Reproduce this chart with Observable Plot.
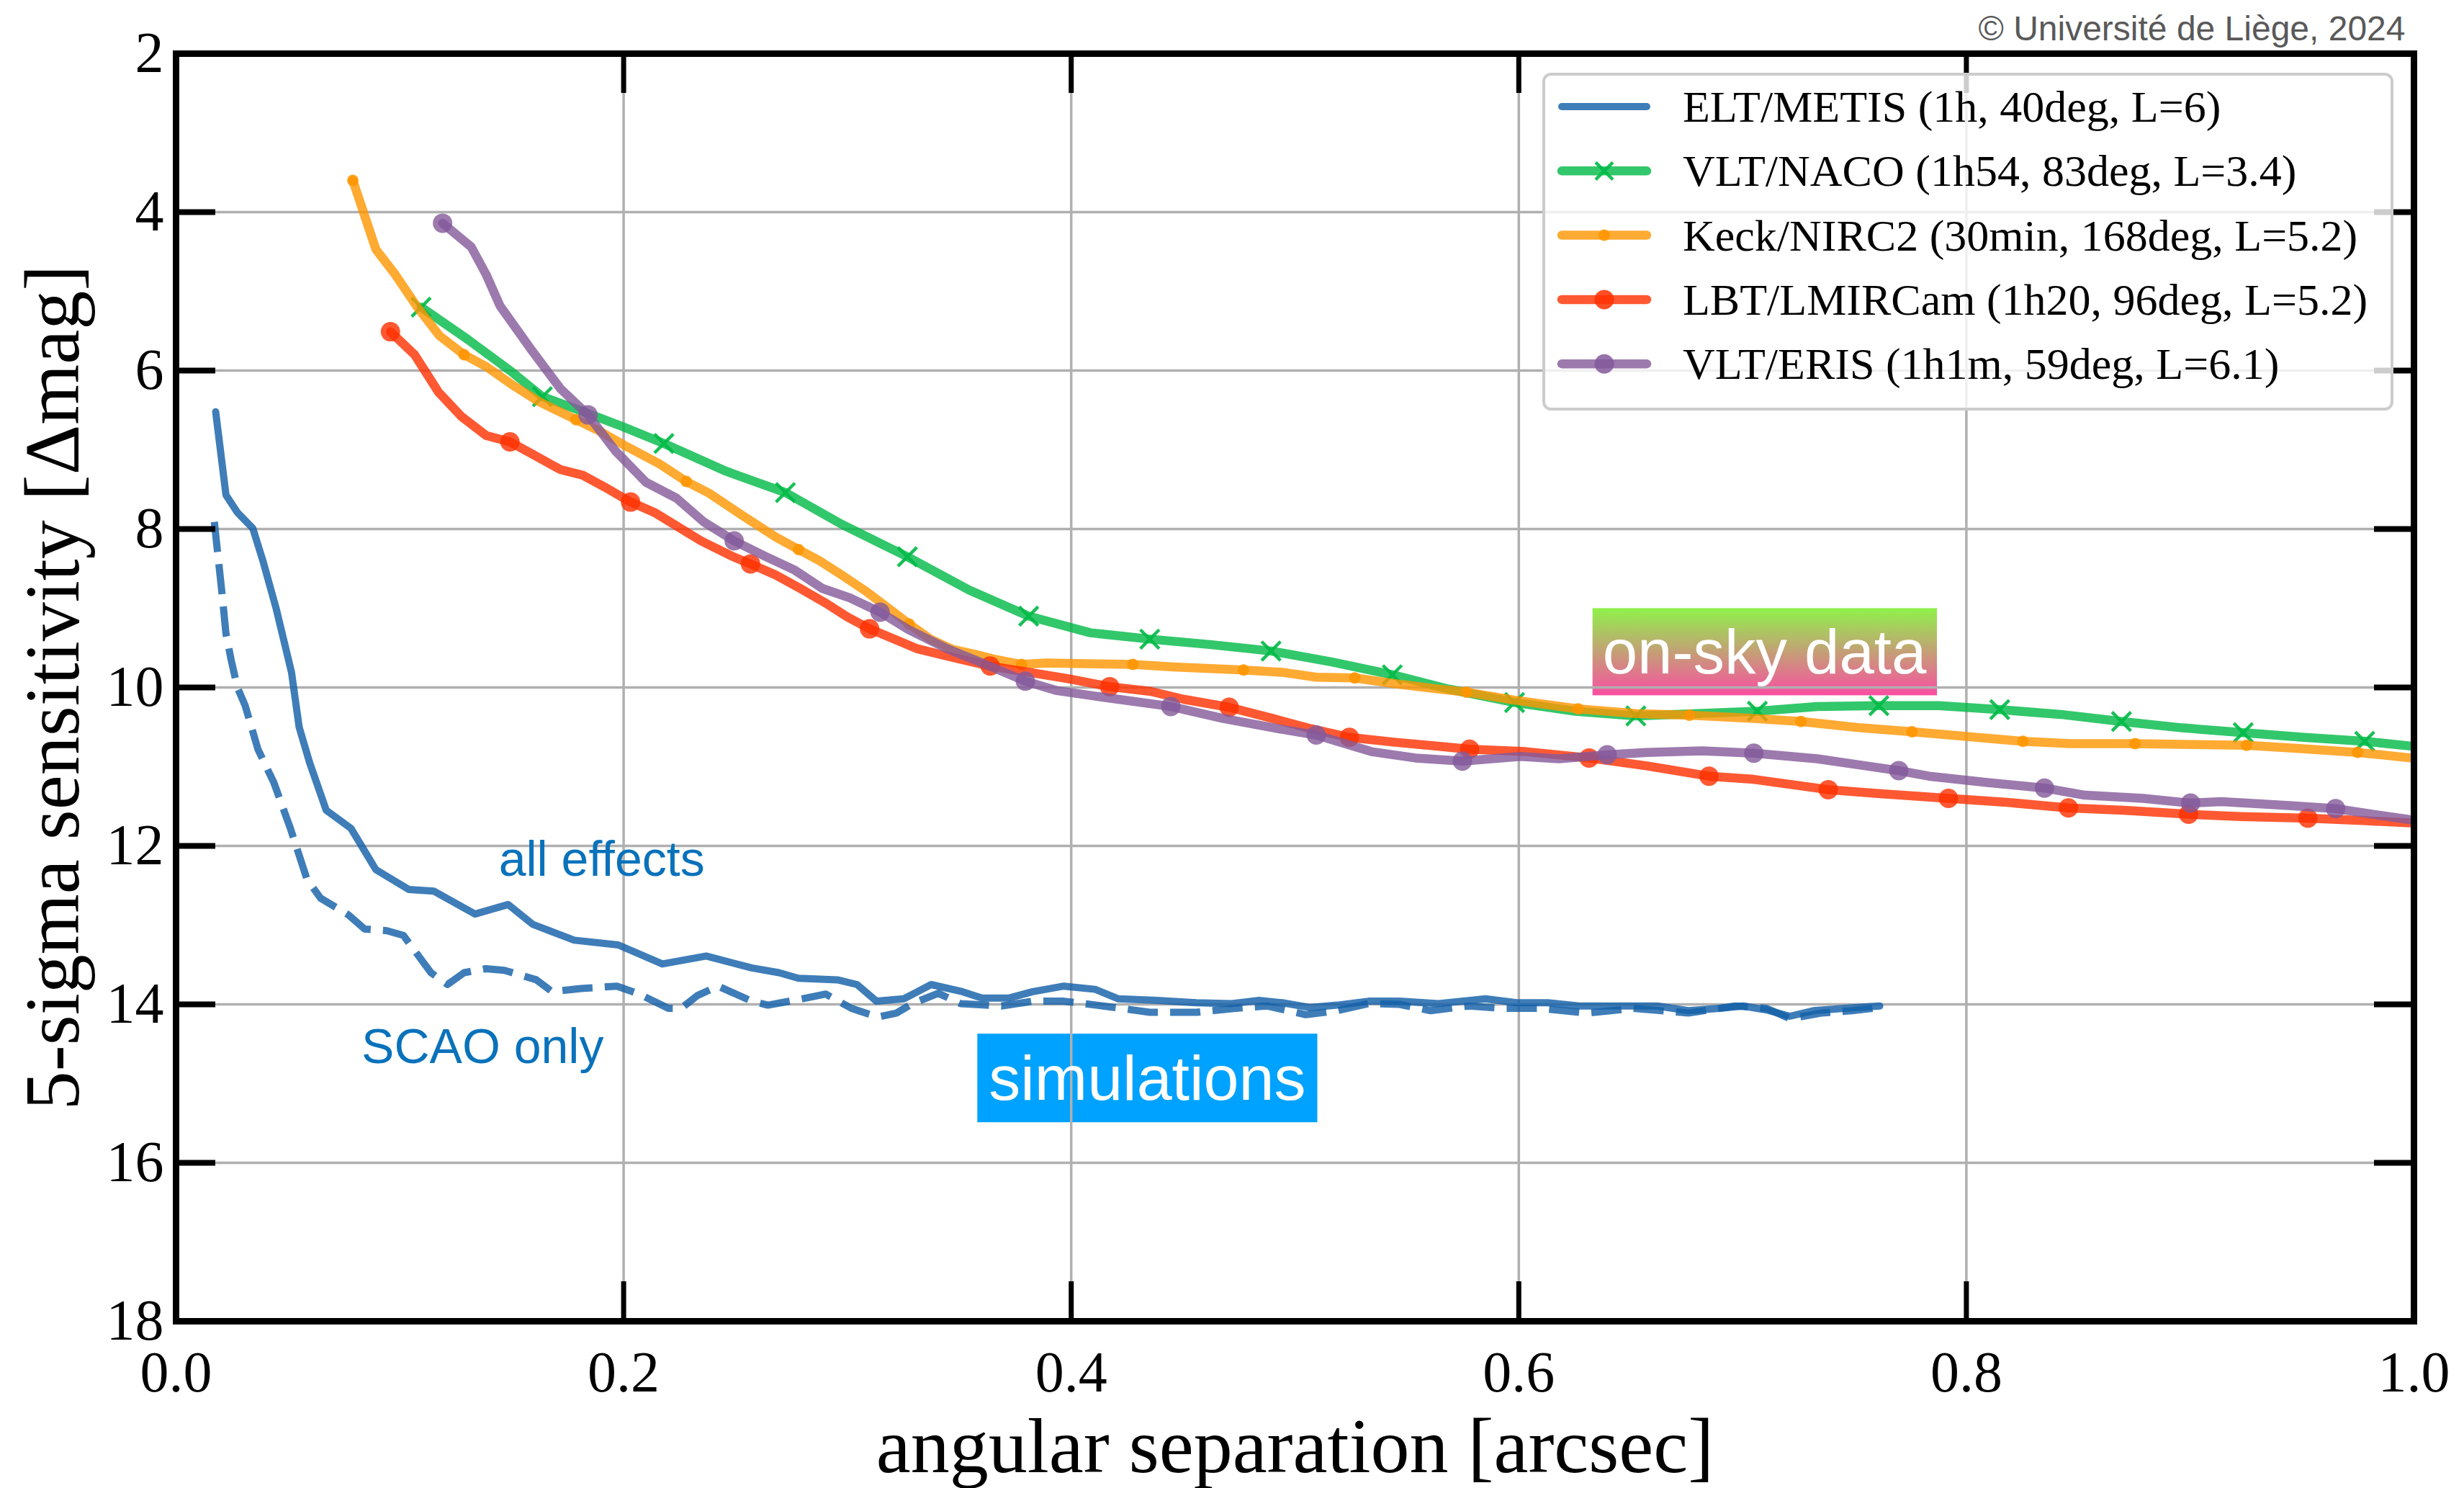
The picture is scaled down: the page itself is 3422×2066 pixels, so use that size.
<!DOCTYPE html>
<html>
<head>
<meta charset="utf-8">
<script src="https://cdn.jsdelivr.net/npm/d3@7"></script>
<script src="https://cdn.jsdelivr.net/npm/@observablehq/plot@0.6"></script>
<style>
  html, body { margin: 0; padding: 0; background: #ffffff; }
  #chart { width: 3422px; height: 2066px; }
</style>
</head>
<body>
<div id="chart"></div>
<script>
// ---------------- DATA ----------------
const seriesNames = [
  "ELT/METIS (1h, 40deg, L=6)",
  "VLT/NACO (1h54, 83deg, L=3.4)",
  "Keck/NIRC2 (30min, 168deg, L=5.2)",
  "LBT/LMIRCam (1h20, 96deg, L=5.2)",
  "VLT/ERIS (1h1m, 59deg, L=6.1)"
];
const xTicks = [0, 0.2, 0.4, 0.6, 0.8, 1.0];
const yTicks = [2, 4, 6, 8, 10, 12, 14, 16, 18];
const xTitle = "angular separation [arcsec]";
const yTitle = "5-sigma sensitivity [Δmag]";
const credit = "© Université de Liège, 2024";

// ELT/METIS simulations: [separation, Δmag]
const metisAllEffects = [
  [0.0177,6.52],[0.0223,7.57],[0.0274,7.79],[0.0343,7.99],[0.0389,8.41],[0.0447,9.0],
  [0.0516,9.81],[0.055,10.5],[0.0597,10.95],[0.0671,11.55],[0.0782,11.78],[0.0893,12.30],
  [0.104,12.55],[0.1151,12.57],[0.1336,12.86],[0.1484,12.74],[0.1594,12.99],[0.1779,13.19],
  [0.1976,13.25],[0.2173,13.49],[0.2369,13.39],[0.2572,13.54],[0.2694,13.6],[0.2781,13.67],
  [0.2955,13.69],[0.3043,13.75],[0.313,13.96],[0.3252,13.93],[0.3374,13.75],[0.3514,13.84],
  [0.3601,13.92],[0.3723,13.92],[0.3828,13.84],[0.3967,13.77],[0.4107,13.81],[0.4211,13.93],
  [0.4385,13.95],[0.456,13.98],[0.4717,13.99],[0.4839,13.95],[0.4944,13.98],[0.5066,14.04],
  [0.5188,14.01],[0.5328,13.96],[0.5467,13.96],[0.5641,13.99],[0.5851,13.93],[0.5991,13.98],
  [0.613,13.98],[0.6269,14.02],[0.6479,14.02],[0.6618,14.02],[0.6758,14.08],[0.6897,14.05],
  [0.7002,14.02],[0.7107,14.07],[0.7211,14.15],[0.7316,14.08],[0.7455,14.05],[0.7613,14.02]
];
const metisScaoOnly = [
  [0.0171,7.91],[0.0206,8.83],[0.0223,9.32],[0.0246,9.65],[0.0274,10.0],[0.0309,10.23],
  [0.0366,10.78],[0.0437,11.2],[0.0511,11.78],[0.0585,12.42],[0.0646,12.66],[0.077,12.87],
  [0.0843,13.05],[0.0942,13.07],[0.1016,13.13],[0.1139,13.6],[0.1213,13.75],[0.1287,13.6],
  [0.1385,13.55],[0.1467,13.57],[0.161,13.69],[0.168,13.84],[0.181,13.8],[0.197,13.77],
  [0.207,13.87],[0.22,14.05],[0.2257,14.05],[0.2329,13.89],[0.2422,13.77],[0.2573,13.96],
  [0.2645,14.01],[0.2817,13.92],[0.2903,13.87],[0.3018,14.05],[0.3134,14.16],[0.3219,14.11],
  [0.3291,13.99],[0.3406,13.86],[0.3506,13.99],[0.3688,14.02],[0.3828,13.96],[0.3967,13.96],
  [0.4141,14.02],[0.4351,14.1],[0.456,14.1],[0.4734,14.05],[0.4874,14.02],[0.5048,14.13],
  [0.5188,14.08],[0.5328,13.99],[0.5467,14.0],[0.5606,14.08],[0.578,14.02],[0.592,14.05],
  [0.6094,14.05],[0.6304,14.11],[0.6513,14.05],[0.6758,14.11],[0.6967,14.02],[0.7107,14.05],
  [0.7211,14.18],[0.7351,14.11],[0.749,14.08],[0.7613,14.04]
];

// on-sky data: [separation, Δmag, marker (1 = marker drawn)]
const vltNaco = [
  [0.1095,5.2,1],[0.13,5.6,0],[0.1497,6.01,0],[0.1637,6.33,1],[0.1792,6.49,0],[0.1989,6.7,0],
  [0.218,6.92,1],[0.2457,7.27,0],[0.2723,7.54,1],[0.2974,7.94,0],[0.3268,8.35,1],[0.3544,8.77,0],
  [0.381,9.1,1],[0.4086,9.31,0],[0.4351,9.39,1],[0.4627,9.46,0],[0.4893,9.54,1],[0.5169,9.68,0],
  [0.5435,9.84,1],[0.5686,10.02,0],[0.5981,10.19,1],[0.6252,10.3,0],[0.6523,10.36,1],[0.68,10.33,0],
  [0.7066,10.3,1],[0.7333,10.24,0],[0.7609,10.23,1],[0.7877,10.23,0],[0.8149,10.28,1],[0.8421,10.34,0],
  [0.8693,10.43,1],[0.8965,10.51,0],[0.9237,10.57,1],[0.9508,10.63,0],[0.978,10.68,1],[0.9987,10.74,0]
];
const keckNirc2 = [
  [0.079,3.6,1],[0.0893,4.47,0],[0.098,4.79,0],[0.1078,5.2,0],[0.1177,5.56,0],[0.1287,5.8,1],
  [0.1386,5.95,0],[0.1497,6.17,0],[0.162,6.39,0],[0.1787,6.62,1],[0.189,6.76,0],[0.2014,6.96,0],
  [0.2161,7.18,0],[0.228,7.4,1],[0.2383,7.55,0],[0.2531,7.83,0],[0.2679,8.1,0],[0.2782,8.26,1],
  [0.2875,8.4,0],[0.2974,8.58,0],[0.3085,8.79,0],[0.317,8.97,0],[0.3276,9.2,1],[0.3371,9.39,0],
  [0.347,9.52,0],[0.3568,9.58,0],[0.3667,9.65,0],[0.3778,9.71,1],[0.3888,9.69,0],[0.4061,9.7,0],
  [0.4275,9.71,1],[0.4455,9.74,0],[0.477,9.78,1],[0.4947,9.81,0],[0.5095,9.87,0],[0.5267,9.88,1],
  [0.544,9.95,0],[0.5612,10.01,0],[0.5767,10.06,1],[0.5981,10.16,0],[0.6265,10.27,1],[0.6523,10.33,0],
  [0.6762,10.35,1],[0.705,10.39,0],[0.7261,10.43,1],[0.7529,10.51,0],[0.7757,10.56,1],[0.7964,10.61,0],
  [0.8253,10.68,1],[0.8464,10.71,0],[0.8754,10.71,1],[0.9008,10.72,0],[0.9252,10.73,1],[0.9487,10.77,0],
  [0.9748,10.82,1],[0.9987,10.89,0]
];
const lbtLmircam = [
  [0.0958,5.51,1],[0.1066,5.8,0],[0.1172,6.27,0],[0.1275,6.58,0],[0.1386,6.82,0],[0.1492,6.9,1],
  [0.1595,7.06,0],[0.1718,7.25,0],[0.1817,7.32,0],[0.1915,7.47,0],[0.2031,7.66,1],[0.2137,7.79,0],
  [0.2236,7.96,0],[0.2346,8.15,0],[0.2482,8.34,0],[0.2567,8.44,1],[0.2679,8.58,0],[0.2789,8.75,0],
  [0.29,8.93,0],[0.2999,9.11,0],[0.3099,9.26,1],[0.331,9.51,0],[0.347,9.62,0],[0.3638,9.73,1],
  [0.3815,9.81,0],[0.3987,9.89,0],[0.4172,9.99,1],[0.4356,10.05,0],[0.4504,10.15,0],[0.4706,10.25,1],
  [0.4898,10.39,0],[0.507,10.52,0],[0.5243,10.63,1],[0.544,10.69,0],[0.5637,10.74,0],[0.578,10.78,1],
  [0.6031,10.81,0],[0.6314,10.89,1],[0.6572,10.99,0],[0.685,11.12,1],[0.705,11.16,0],[0.7383,11.29,1],
  [0.7616,11.34,0],[0.792,11.4,1],[0.8181,11.45,0],[0.8456,11.52,1],[0.8703,11.55,0],[0.8993,11.6,1],
  [0.9226,11.63,0],[0.9526,11.65,1],[0.977,11.68,0],[0.9987,11.71,0]
];
const vltEris = [
  [0.1191,4.14,1],[0.1319,4.44,0],[0.1386,4.79,0],[0.1447,5.18,0],[0.1583,5.72,0],[0.1718,6.23,0],
  [0.1841,6.56,1],[0.1965,7.02,0],[0.21,7.41,0],[0.2236,7.61,0],[0.2358,7.91,0],[0.2494,8.15,1],
  [0.2629,8.34,0],[0.2765,8.52,0],[0.2888,8.75,0],[0.3011,8.87,0],[0.3146,9.05,1],[0.3273,9.27,0],
  [0.3445,9.51,0],[0.3593,9.68,0],[0.3795,9.92,1],[0.3937,10.04,0],[0.4159,10.13,0],[0.4445,10.24,1],
  [0.4676,10.39,0],[0.4923,10.52,0],[0.5095,10.6,1],[0.5341,10.81,0],[0.5538,10.89,0],[0.5748,10.93,1],
  [0.6006,10.87,0],[0.6179,10.9,0],[0.6395,10.85,1],[0.6572,10.82,0],[0.6819,10.8,0],[0.705,10.83,1],
  [0.7333,10.9,0],[0.7551,10.99,0],[0.7698,11.05,1],[0.7833,11.12,0],[0.8094,11.2,0],[0.8349,11.27,1],
  [0.853,11.36,0],[0.879,11.4,0],[0.9002,11.46,1],[0.9139,11.44,0],[0.9443,11.49,0],[0.965,11.53,1],
  [0.9813,11.6,0],[0.9987,11.67,0]
];

// annotations (label, anchor separation, anchor Δmag)
const annotLabels = ["all effects", "SCAO only", "simulations", "on-sky data"];
const annotX = [0.1902, 0.137, 0.434, 0.7098];
const annotY = [12.18, 14.54, 14.95, 9.573];

// ---------------- STYLE ----------------
const W = 3422, H = 2066;
const mL = 244, mR = 70, mT = 74, mB = 232;
const plotW = W - mL - mR, plotH = H - mT - mB;
const tickLen = 55;
const serif = "'Liberation Serif', 'DejaVu Serif', serif";
const sans = "'Liberation Sans', Arial, sans-serif";

const col = {
  metis: "#1360a8",
  naco: "#00b946",
  keck: "#ff9500",
  lbt: "#ff3000",
  eris: "#83599a"
};
const annotColor = "#0a72ba";

const X = d => d[0], Y = d => d[1];
const marked = arr => arr.filter(d => d[2] === 1);

function series(data, color, markerOpts) {
  return [
    Plot.line(data, {x: X, y: Y, stroke: color, strokeOpacity: 0.8, strokeWidth: 12.5,
      strokeLinecap: "round", strokeLinejoin: "round"}),
    Plot.dot(marked(data), {x: X, y: Y, ...markerOpts})
  ];
}

const annotText = (i, size, fill) => Plot.text([annotLabels[i]], {
  x: () => annotX[i], y: () => annotY[i], text: d => d,
  fontFamily: sans, fontSize: size, fill, lineAnchor: "middle", textAnchor: "middle"
});

const chart = Plot.plot({
  width: W, height: H,
  marginLeft: mL, marginRight: mR, marginTop: mT, marginBottom: mB,
  x: {domain: [0, 1]},
  y: {domain: [2, 18], reverse: true},
  style: {fontFamily: serif, background: "#ffffff", overflow: "visible"},
  marks: [
    Plot.gridX(xTicks, {stroke: "#b0b0b0", strokeOpacity: 1, strokeWidth: 3.5}),
    Plot.gridY(yTicks, {stroke: "#b0b0b0", strokeOpacity: 1, strokeWidth: 3.5}),

    // simulations
    Plot.line(metisScaoOnly, {x: X, y: Y, stroke: col.metis, strokeOpacity: 0.82, strokeWidth: 10,
      strokeDasharray: "42,17", strokeLinecap: "butt", strokeLinejoin: "round"}),
    Plot.line(metisAllEffects, {x: X, y: Y, stroke: col.metis, strokeOpacity: 0.82, strokeWidth: 10,
      strokeLinecap: "round", strokeLinejoin: "round"}),

    // on-sky data
    ...series(vltNaco, col.naco, {symbol: "times", r: 12, stroke: col.naco, strokeOpacity: 0.9, strokeWidth: 4.5}),
    ...series(keckNirc2, col.keck, {r: 8, fill: col.keck, fillOpacity: 0.85, stroke: "none"}),
    ...series(lbtLmircam, col.lbt, {r: 13.5, fill: col.lbt, fillOpacity: 0.8, stroke: "none"}),
    ...series(vltEris, col.eris, {r: 13.5, fill: col.eris, fillOpacity: 0.8, stroke: "none"}),

    // annotations
    annotText(0, 68, annotColor),
    annotText(1, 68, annotColor),
    annotText(2, 88, "#ffffff"),
    annotText(3, 87, "#ffffff"),

    // inward ticks
    Plot.tickY(yTicks, {y: d => d, insetRight: plotW - tickLen, stroke: "#000", strokeWidth: 8}),
    Plot.tickY(yTicks, {y: d => d, insetLeft: plotW - tickLen, stroke: "#000", strokeWidth: 8}),
    Plot.tickX(xTicks, {x: d => d, insetTop: plotH - tickLen, stroke: "#000", strokeWidth: 7}),
    Plot.tickX(xTicks, {x: d => d, insetBottom: plotH - tickLen, stroke: "#000", strokeWidth: 7}),
    Plot.frame({stroke: "#000", strokeWidth: 9}),

    // axes (labels only)
    Plot.axisX(xTicks, {tickSize: 0, tickPadding: 41, fontSize: 80, tickFormat: d => d.toFixed(1), label: null, fill: "#000"}),
    Plot.axisY(yTicks, {tickSize: 0, tickPadding: 17, fontSize: 80, tickFormat: d => String(d), label: null, fill: "#000"}),

    // titles
    Plot.text([xTitle], {frameAnchor: "bottom", dy: 175, text: d => d, fontSize: 108,
      lineAnchor: "middle", textAnchor: "middle", fill: "#000"}),
    Plot.text([yTitle], {frameAnchor: "left", dx: -170, rotate: -90, text: d => d, fontSize: 108,
      lineAnchor: "middle", textAnchor: "middle", fill: "#000"}),
    Plot.text([credit], {frameAnchor: "top-right", dx: -12, dy: -34, text: d => d, fontFamily: sans, fontSize: 48,
      lineAnchor: "middle", textAnchor: "end", fill: "#595959"})
  ]
});

document.getElementById("chart").appendChild(chart);

// ---------------- annotation boxes (behind grid) ----------------
const svg = d3.select(chart);
const defs = svg.insert("defs", ":first-child");
const grad = defs.append("linearGradient").attr("id", "skygrad")
  .attr("x1", 0).attr("y1", 0).attr("x2", 0).attr("y2", 1);
grad.append("stop").attr("offset", "0%").attr("stop-color", "#8ff24a");
grad.append("stop").attr("offset", "100%").attr("stop-color", "#f94ea2");

const sRect = chart.getBoundingClientRect();
const firstG = chart.querySelector("g");
function boxBehind(label, fill, padX, padY) {
  const t = Array.from(chart.querySelectorAll("text")).find(e => e.textContent === label);
  if (!t) return;
  const r = t.getBoundingClientRect();
  const rect = document.createElementNS("http://www.w3.org/2000/svg", "rect");
  rect.setAttribute("x", r.left - sRect.left - padX);
  rect.setAttribute("y", r.top - sRect.top - padY);
  rect.setAttribute("width", r.width + 2 * padX);
  rect.setAttribute("height", r.height + 2 * padY);
  rect.setAttribute("fill", fill);
  chart.insertBefore(rect, firstG);
}
boxBehind("simulations", "#00a2ff", 16, 12);
boxBehind("on-sky data", "url(#skygrad)", 14, 12);

// ---------------- legend ----------------
const leg = svg.append("g").attr("text-anchor", "start");
leg.append("rect").attr("x", 2144).attr("y", 103).attr("width", 1178).attr("height", 465)
  .attr("rx", 10).attr("fill", "#ffffff").attr("fill-opacity", 0.8)
  .attr("stroke", "#cccccc").attr("stroke-width", 4);
const legStyles = [
  {color: col.metis, width: 10, op: 0.82, marker: null},
  {color: col.naco, width: 12.5, op: 0.8, marker: "times"},
  {color: col.keck, width: 12.5, op: 0.8, marker: "small"},
  {color: col.lbt, width: 12.5, op: 0.8, marker: "big"},
  {color: col.eris, width: 12.5, op: 0.8, marker: "big"}
];
seriesNames.forEach((name, i) => {
  const cy = 148 + i * 89.3;
  const s = legStyles[i];
  leg.append("line").attr("x1", 2169).attr("x2", 2287).attr("y1", cy).attr("y2", cy)
    .attr("stroke", s.color).attr("stroke-opacity", s.op).attr("stroke-width", s.width)
    .attr("stroke-linecap", "round");
  if (s.marker === "times") {
    const d = 12;
    leg.append("path").attr("d", `M${2228 - d},${cy - d}L${2228 + d},${cy + d}M${2228 - d},${cy + d}L${2228 + d},${cy - d}`)
      .attr("stroke", s.color).attr("stroke-opacity", 0.9).attr("stroke-width", 4.5).attr("fill", "none");
  } else if (s.marker) {
    leg.append("circle").attr("cx", 2228).attr("cy", cy).attr("r", s.marker === "small" ? 8 : 13.5)
      .attr("fill", s.color).attr("fill-opacity", 0.85);
  }
  leg.append("text").attr("x", 2337).attr("y", cy).attr("dominant-baseline", "central")
    .attr("text-anchor", "start")
    .attr("font-family", serif).attr("font-size", 62).attr("fill", "#000").text(name);
});
</script>
</body>
</html>
